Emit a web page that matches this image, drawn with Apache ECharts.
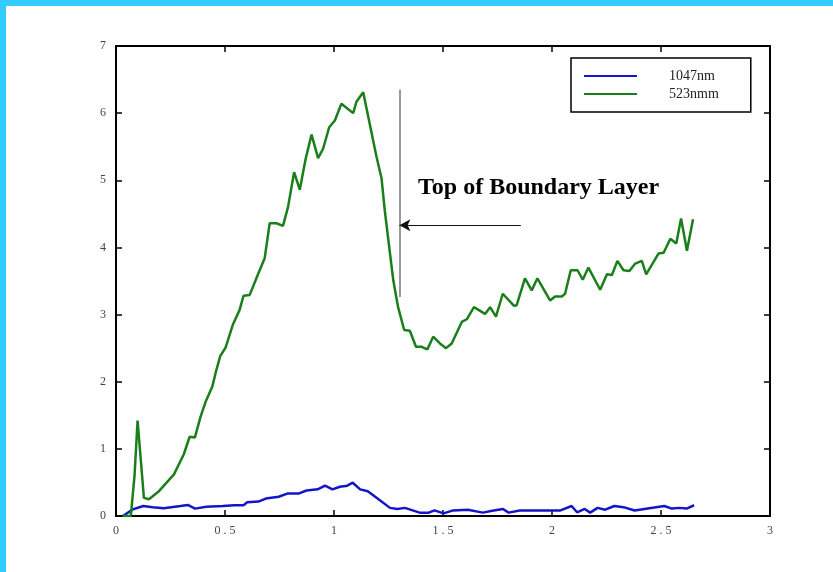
<!DOCTYPE html>
<html>
<head>
<meta charset="utf-8">
<script src="https://cdn.jsdelivr.net/npm/echarts@6/dist/echarts.min.js"></script>
<style>
html,body{margin:0;padding:0;background:#fff;}
#chart{width:833px;height:572px;}
</style>
</head>
<body>
<div id="chart"></div>
<script>
// ---- data ----
const xTicks = [0, 0.5, 1, 1.5, 2, 2.5, 3];
const yTicks = [0, 1, 2, 3, 4, 5, 6, 7];

const name1047 = "1047nm";
const name523 = "523nmm";

const x1047 = [0.032,0.074,0.125,0.168,0.219,0.296,0.329,0.363,0.414,0.491,0.542,0.585,0.602,0.653,0.687,0.746,0.789,0.840,0.874,0.925,0.959,0.993,1.027,1.061,1.086,1.120,1.155,1.189,1.257,1.291,1.325,1.393,1.435,1.461,1.503,1.546,1.614,1.682,1.733,1.775,1.801,1.852,2.005,2.039,2.090,2.115,2.150,2.175,2.209,2.244,2.286,2.328,2.379,2.447,2.515,2.550,2.584,2.618,2.652];
const y1047 = [0.00,0.094,0.149,0.13,0.116,0.149,0.165,0.11,0.138,0.149,0.16,0.16,0.204,0.215,0.259,0.287,0.336,0.336,0.38,0.397,0.452,0.397,0.436,0.452,0.496,0.397,0.369,0.287,0.121,0.105,0.121,0.05,0.05,0.083,0.039,0.083,0.094,0.05,0.083,0.105,0.05,0.083,0.083,0.083,0.149,0.055,0.105,0.05,0.121,0.094,0.149,0.132,0.083,0.116,0.149,0.11,0.121,0.11,0.16];

const x523 = [0.03,0.068,0.085,0.099,0.128,0.151,0.197,0.266,0.311,0.338,0.362,0.388,0.411,0.442,0.46,0.478,0.503,0.535,0.567,0.585,0.613,0.65,0.682,0.705,0.736,0.766,0.789,0.817,0.843,0.870,0.897,0.927,0.950,0.978,1.004,1.034,1.088,1.103,1.134,1.164,1.195,1.218,1.233,1.253,1.272,1.294,1.322,1.348,1.376,1.402,1.428,1.455,1.486,1.514,1.540,1.586,1.609,1.642,1.693,1.716,1.743,1.774,1.826,1.838,1.876,1.907,1.933,1.991,2.014,2.045,2.060,2.086,2.117,2.141,2.167,2.221,2.252,2.275,2.300,2.328,2.355,2.382,2.412,2.432,2.489,2.512,2.543,2.570,2.592,2.619,2.647];
const y523 = [0,0,0.6,1.42,0.27,0.25,0.37,0.62,0.92,1.18,1.17,1.48,1.70,1.93,2.17,2.38,2.51,2.84,3.07,3.28,3.29,3.59,3.84,4.36,4.36,4.32,4.60,5.12,4.86,5.32,5.68,5.33,5.47,5.79,5.89,6.14,6.0,6.17,6.31,5.84,5.35,5.03,4.55,4.01,3.51,3.11,2.77,2.76,2.52,2.52,2.48,2.67,2.57,2.50,2.57,2.89,2.93,3.11,3.01,3.11,2.97,3.31,3.13,3.14,3.54,3.36,3.54,3.21,3.27,3.27,3.31,3.66,3.66,3.52,3.70,3.37,3.60,3.59,3.80,3.66,3.65,3.76,3.80,3.60,3.91,3.92,4.13,4.06,4.43,3.95,4.42];

// annotation (data coordinates)
const boundaryX = 1.3;
const boundaryYRange = [6.35, 3.26];
const arrowY = 4.33;
const arrowStartX = 1.857;
const annotationText = "Top of Boundary Layer";

// ---- chart ----
const zip = (xs, ys) => xs.map((x, i) => [x, ys[i]]);
const spaced = v => String(v).split('').join(' ');
const chart = echarts.init(document.getElementById('chart'), null, {renderer: 'canvas'});

const axisFont = {fontFamily: 'Liberation Serif', fontSize: 12, color: '#444'};
const lineSt = {show: true, onZero: false, lineStyle: {color: '#000', width: 2}};
const tickSt = {show: true, inside: true, length: 6, lineStyle: {color: '#000', width: 1.5}};

chart.setOption({
  animation: false,
  backgroundColor: '#fff',
  grid: {left: 116, right: 63, top: 46, bottom: 56, containLabel: false},
  xAxis: [
    {type: 'value', min: 0, max: 3, interval: 0.5, position: 'bottom',
     axisLine: lineSt, axisTick: tickSt,
     axisLabel: Object.assign({margin: 9, formatter: spaced}, axisFont), splitLine: {show: false}},
    {type: 'value', min: 0, max: 3, interval: 0.5, position: 'top',
     axisLine: lineSt, axisTick: tickSt,
     axisLabel: {show: false}, splitLine: {show: false}}
  ],
  yAxis: [
    {type: 'value', min: 0, max: 7, interval: 1, position: 'left',
     axisLine: lineSt, axisTick: tickSt,
     axisLabel: Object.assign({margin: 10}, axisFont), splitLine: {show: false}},
    {type: 'value', min: 0, max: 7, interval: 1, position: 'right',
     axisLine: lineSt, axisTick: tickSt,
     axisLabel: {show: false}, splitLine: {show: false}}
  ],
  legend: {
    orient: 'vertical', left: 571, top: 58,
    padding: [10, 32, 10, 13],
    borderColor: '#000', borderWidth: 1.5,
    icon: 'rect',
    itemWidth: 53, itemHeight: 2, itemGap: 2,
    data: [name1047, name523],
    textStyle: {fontFamily: 'Liberation Serif', fontSize: 14, lineHeight: 16, color: '#222', padding: [0, 0, 0, 27]}
  },
  series: [
    {name: name1047, type: 'line', data: zip(x1047, y1047), symbol: 'none', showSymbol: false,
     lineStyle: {color: '#1414c8', width: 2.5}, itemStyle: {color: '#1414c8'}},
    {name: name523, type: 'line', data: zip(x523, y523), symbol: 'none', showSymbol: false,
     lineStyle: {color: '#1a7f1a', width: 2.5}, itemStyle: {color: '#1a7f1a'},
     markLine: {
       silent: true, animation: false, label: {show: false},
       data: [
         [{coord: [boundaryX, boundaryYRange[0]], symbol: 'none', lineStyle: {color: '#777', width: 1.5, type: 'solid'}},
          {coord: [boundaryX, boundaryYRange[1]], symbol: 'none'}],
         [{coord: [arrowStartX, arrowY], symbol: 'none', lineStyle: {color: '#111', width: 1, type: 'solid'}},
          {coord: [boundaryX, arrowY], symbol: 'arrow', symbolSize: [9, 11]}]
       ]
     }}
  ],
  graphic: [
    {type: 'rect', shape: {x: 0, y: 0, width: 833, height: 6}, style: {fill: '#33ccff'}, silent: true},
    {type: 'rect', shape: {x: 0, y: 0, width: 6, height: 572}, style: {fill: '#33ccff'}, silent: true},
    {type: 'text', left: 418, top: 176,
     style: {text: annotationText, fontFamily: 'Liberation Serif', fontWeight: 'bold', fontSize: 24, fill: '#000'}}
  ]
});
</script>
</body>
</html>
